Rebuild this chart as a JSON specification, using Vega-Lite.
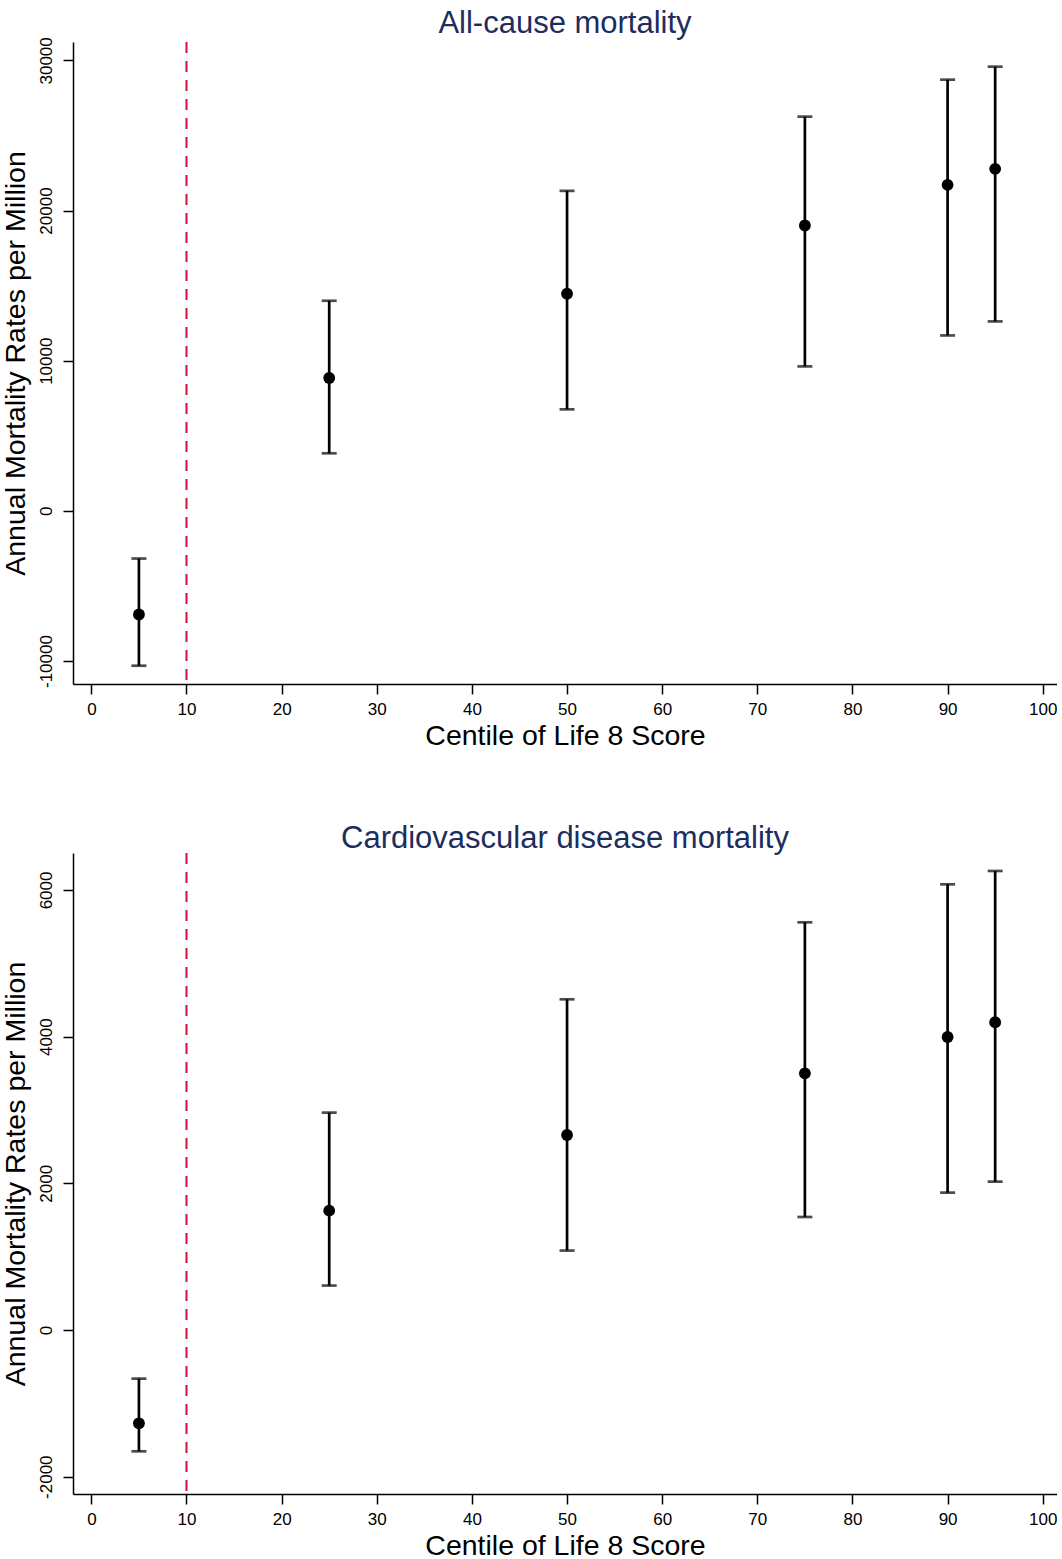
{
  "$schema": "https://vega.github.io/schema/vega-lite/v6.json",
  "background": "white",
  "padding": {"left": 1, "top": 7, "right": 0, "bottom": 0},
  "spacing": 73,
  "datasets": {
    "allcause": [
      {"centile": 5, "rate": -6900, "lo": -10313, "hi": -3175},
      {"centile": 25, "rate": 8849, "lo": 3833, "hi": 13992},
      {"centile": 50, "rate": 14458, "lo": 6760, "hi": 21311},
      {"centile": 75, "rate": 19002, "lo": 9621, "hi": 26254},
      {"centile": 90, "rate": 21710, "lo": 11683, "hi": 28716},
      {"centile": 95, "rate": 22775, "lo": 12615, "hi": 29581}
    ],
    "cvd": [
      {"centile": 5, "rate": -1272, "lo": -1654, "hi": -663},
      {"centile": 25, "rate": 1627, "lo": 606, "hi": 2964},
      {"centile": 50, "rate": 2659, "lo": 1083, "hi": 4509},
      {"centile": 75, "rate": 3500, "lo": 1541, "hi": 5559},
      {"centile": 90, "rate": 3995, "lo": 1873, "hi": 6077},
      {"centile": 95, "rate": 4196, "lo": 2023, "hi": 6259}
    ],
    "cutoff": [{"centile": 10}]
  },
  "config": {
    "view": {"stroke": null},
    "font": "Liberation Sans",
    "title": {"font": "Liberation Sans", "fontSize": 31, "fontWeight": "normal", "color": "#1c2d5e", "offset": -3},
    "axis": {
      "grid": false,
      "domainColor": "black",
      "domainWidth": 1.5,
      "tickColor": "black",
      "tickWidth": 1.5,
      "tickSize": 10,
      "labelFont": "Liberation Sans",
      "labelFontSize": 17,
      "labelColor": "black",
      "titleFont": "Liberation Sans",
      "titleFontSize": 28.5,
      "titleFontWeight": "normal",
      "titleColor": "black",
      "labelExpr": "toString(datum.value)"
    },
    "axisX": {"labelPadding": 7, "titlePadding": 4},
    "axisY": {"labelAngle": -90, "labelAlign": "center", "labelBaseline": "bottom", "labelPadding": 8, "titlePadding": 7}
  },
  "vconcat": [
    {
      "title": "All-cause mortality",
      "width": 984,
      "height": 642,
      "layer": [
        {
          "data": {"name": "cutoff"},
          "mark": {"type": "rule", "color": "#d0103a", "strokeWidth": 2, "strokeDash": [11, 8]},
          "encoding": {"x": {"field": "centile", "type": "quantitative"}}
        },
        {
          "data": {"name": "allcause"},
          "mark": {"type": "rule", "color": "black", "strokeWidth": 2.7},
          "encoding": {
            "x": {"field": "centile", "type": "quantitative", "scale": {"domain": [-1.93, 101.5], "nice": false, "zero": false}, "axis": {"values": [0,10,20,30,40,50,60,70,80,90,100], "title": "Centile of Life 8 Score"}},
            "y": {"field": "lo", "type": "quantitative", "scale": {"domain": [-11530, 31224], "nice": false, "zero": false}, "axis": {"values": [-10000, 0, 10000, 20000, 30000], "title": "Annual Mortality Rates per Million"}},
            "y2": {"field": "hi"}
          }
        },
        {
          "data": {"name": "allcause"},
          "mark": {"type": "tick", "orient": "horizontal", "color": "black", "size": 15, "thickness": 2.7},
          "encoding": {"x": {"field": "centile", "type": "quantitative"}, "y": {"field": "lo", "type": "quantitative"}}
        },
        {
          "data": {"name": "allcause"},
          "mark": {"type": "tick", "orient": "horizontal", "color": "black", "size": 15, "thickness": 2.7},
          "encoding": {"x": {"field": "centile", "type": "quantitative"}, "y": {"field": "hi", "type": "quantitative"}}
        },
        {
          "data": {"name": "allcause"},
          "mark": {"type": "circle", "color": "black", "opacity": 1, "size": 140},
          "encoding": {"x": {"field": "centile", "type": "quantitative"}, "y": {"field": "rate", "type": "quantitative"}}
        }
      ]
    },
    {
      "title": "Cardiovascular disease mortality",
      "width": 984,
      "height": 641,
      "layer": [
        {
          "data": {"name": "cutoff"},
          "mark": {"type": "rule", "color": "#d0103a", "strokeWidth": 2, "strokeDash": [11, 8]},
          "encoding": {"x": {"field": "centile", "type": "quantitative"}}
        },
        {
          "data": {"name": "cvd"},
          "mark": {"type": "rule", "color": "black", "strokeWidth": 2.7},
          "encoding": {
            "x": {"field": "centile", "type": "quantitative", "scale": {"domain": [-1.93, 101.5], "nice": false, "zero": false}, "axis": {"values": [0,10,20,30,40,50,60,70,80,90,100], "title": "Centile of Life 8 Score"}},
            "y": {"field": "lo", "type": "quantitative", "scale": {"domain": [-2236, 6504], "nice": false, "zero": false}, "axis": {"values": [-2000, 0, 2000, 4000, 6000], "title": "Annual Mortality Rates per Million"}},
            "y2": {"field": "hi"}
          }
        },
        {
          "data": {"name": "cvd"},
          "mark": {"type": "tick", "orient": "horizontal", "color": "black", "size": 15, "thickness": 2.7},
          "encoding": {"x": {"field": "centile", "type": "quantitative"}, "y": {"field": "lo", "type": "quantitative"}}
        },
        {
          "data": {"name": "cvd"},
          "mark": {"type": "tick", "orient": "horizontal", "color": "black", "size": 15, "thickness": 2.7},
          "encoding": {"x": {"field": "centile", "type": "quantitative"}, "y": {"field": "hi", "type": "quantitative"}}
        },
        {
          "data": {"name": "cvd"},
          "mark": {"type": "circle", "color": "black", "opacity": 1, "size": 140},
          "encoding": {"x": {"field": "centile", "type": "quantitative"}, "y": {"field": "rate", "type": "quantitative"}}
        }
      ]
    }
  ]
}
